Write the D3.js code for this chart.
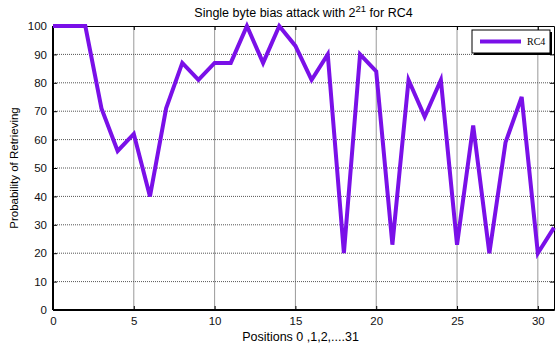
<!DOCTYPE html>
<html>
<head>
<meta charset="utf-8">
<script src="https://cdn.jsdelivr.net/npm/d3@7"></script>
<style>
  body { margin: 0; background: #fff; }
  text { font-family: "Liberation Sans", Arial, sans-serif; }
</style>
</head>
<body>
<svg id="chart"></svg>
<script>
var positions = d3.range(0, 32);
var probability = [100, 100, 100, 71, 56, 62, 40, 71, 87, 81, 87, 87, 100, 87, 100, 93,
  81, 90, 20, 90, 84, 23, 81, 68, 81, 23, 65, 20, 59, 75, 20, 29];
var xTicks = [0, 5, 10, 15, 20, 25, 30];
var yTicks = [0, 10, 20, 30, 40, 50, 60, 70, 80, 90, 100];
var seriesName = "RC4";

var margin = { top: 26, right: 6, bottom: 35, left: 53 },
  width = 560 - margin.left - margin.right,
  height = 345 - margin.top - margin.bottom;

var svg = d3.select("#chart")
    .attr("width", 560)
    .attr("height", 345);

var g = svg.append("g")
    .attr("transform", "translate(" + margin.left + "," + margin.top + ")");

var x = d3.scaleLinear().domain([0, 31]).range([0, width]);
var y = d3.scaleLinear().domain([0, 100]).range([height, 0]);

// grid
g.append("g").selectAll("line")
    .data(xTicks.filter(function(d) { return d > 0; }))
  .enter().append("line")
    .attr("x1", function(d) { return x(d); })
    .attr("x2", function(d) { return x(d); })
    .attr("y1", 0).attr("y2", height)
    .attr("stroke", "#999").attr("stroke-width", 1);
g.append("g").selectAll("line")
    .data(yTicks.filter(function(d) { return d > 0 && d < 100; }))
  .enter().append("line")
    .attr("x1", 0).attr("x2", width)
    .attr("y1", function(d) { return y(d); })
    .attr("y2", function(d) { return y(d); })
    .attr("stroke", "#555").attr("stroke-width", 1)
    .attr("stroke-dasharray", "1,1");

// axes
g.append("g")
    .attr("transform", "translate(0," + height + ")")
    .call(d3.axisBottom(x).tickValues(xTicks).tickSizeInner(-4).tickSizeOuter(0).tickPadding(7));
g.append("g")
    .call(d3.axisLeft(y).tickValues(yTicks).tickSizeInner(-4).tickSizeOuter(0).tickPadding(6));
g.append("g")
    .call(d3.axisTop(x).tickValues(xTicks).tickSizeInner(-4).tickSizeOuter(0).tickFormat(""));
g.append("g")
    .attr("transform", "translate(" + width + ",0)")
    .call(d3.axisRight(y).tickValues(yTicks).tickSizeInner(-4).tickSizeOuter(0).tickFormat(""));

g.selectAll(".tick text").attr("font-size", 11.5).attr("fill", "#111")
    .style("font-family", "Liberation Sans, Arial, sans-serif");
g.selectAll(".domain").attr("stroke", "#000").attr("stroke-width", 1);
g.selectAll(".tick line").attr("stroke", "#000");

// thicker left and bottom
g.append("line").attr("x1", 0).attr("x2", 0).attr("y1", 0).attr("y2", height)
    .attr("stroke", "#000").attr("stroke-width", 2);
g.append("line").attr("x1", 0).attr("x2", width).attr("y1", height).attr("y2", height)
    .attr("stroke", "#000").attr("stroke-width", 2);

// series
var line = d3.line()
    .x(function(d, i) { return x(positions[i]); })
    .y(function(d) { return y(d); });

g.append("path")
    .datum(probability)
    .attr("fill", "none")
    .attr("stroke", "#7a10e8")
    .attr("stroke-width", 4)
    .attr("stroke-linejoin", "miter")
    .attr("d", line);

// legend
var lg = g.append("g").attr("transform", "translate(" + (472 - margin.left) + "," + (30 - margin.top) + ")");
lg.append("rect").attr("x", 2).attr("y", 2).attr("width", 78).attr("height", 23).attr("fill", "#000");
lg.append("rect").attr("width", 78).attr("height", 23).attr("fill", "#fff")
    .attr("stroke", "#000").attr("stroke-width", 1);
lg.append("line").attr("x1", 8).attr("x2", 49).attr("y1", 11.5).attr("y2", 11.5)
    .attr("stroke", "#7a10e8").attr("stroke-width", 4);
lg.append("text").attr("x", 55).attr("y", 15).text(seriesName)
    .attr("font-size", 10).style("font-family", "Liberation Serif, Times New Roman, serif");

// title and labels
var title = svg.append("text").attr("x", margin.left + width / 2).attr("y", 17)
    .attr("text-anchor", "middle").attr("font-size", 12.5);
title.append("tspan").text("Single byte bias attack with 2");
title.append("tspan").attr("dy", -5).attr("font-size", 9.5).text("21");
title.append("tspan").attr("dy", 5).text(" for RC4");

svg.append("text").attr("x", margin.left + width / 2 - 3).attr("y", 341)
    .attr("text-anchor", "middle").attr("font-size", 12.5).text("Positions 0 ,1,2,....31");

svg.append("text")
    .attr("transform", "translate(18," + (margin.top + height / 2) + ") rotate(-90)")
    .attr("text-anchor", "middle").attr("font-size", 11.5).text("Probability of Retrieving");
</script>
</body>
</html>
